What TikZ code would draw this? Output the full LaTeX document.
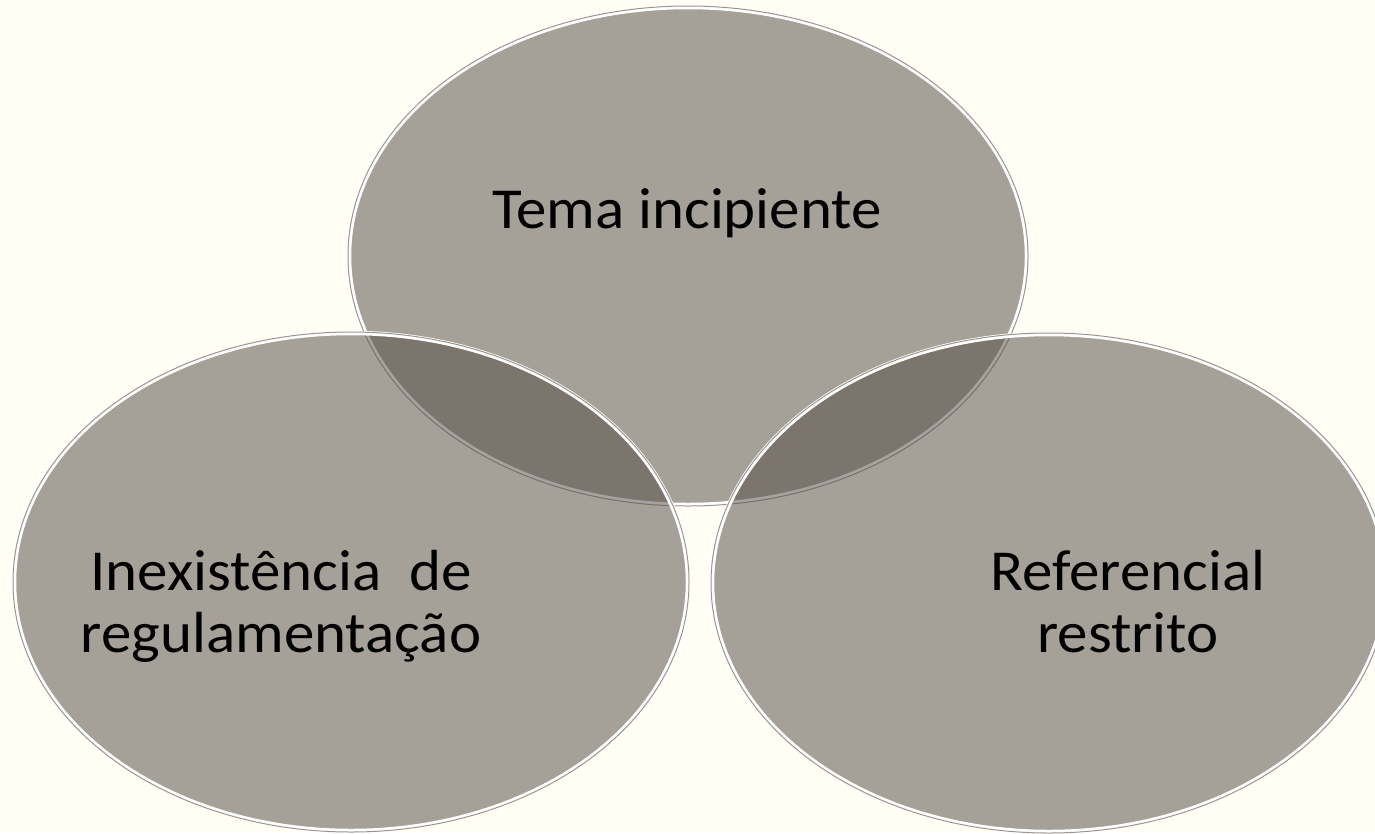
\documentclass[tikz,border=0pt]{standalone}
\usepackage{fontspec}
\setmainfont{Carlito}
\newfontfamily\lblfont[FakeStretch=1.05]{Carlito}
\definecolor{bgcol}{HTML}{FFFFF5}
\definecolor{vennfill}{HTML}{564F49}
\definecolor{rimgray}{HTML}{9A968F}
\tikzset{
  vennfill/.style={fill=vennfill, fill opacity=0.53},
  rimwhite/.style={draw=white, line width=4.5pt},
  rimgray/.style={draw=rimgray, line width=1pt},
  lbl/.style={font=\lblfont\fontsize{58}{62}\selectfont, text=black, inner sep=0pt, align=center}
}
\begin{document}
\begin{tikzpicture}[x=1pt,y=-1pt]
\fill[bgcol] (0,0) rectangle (1375,833);
\useasboundingbox (0,0) rectangle (1375,833);
% top
\fill[vennfill] (688,256) ellipse [x radius=339, y radius=249];
\draw[rimwhite] (688,256) ellipse [x radius=339, y radius=249];
\draw[rimgray] (688,256) ellipse [x radius=340, y radius=250];
% left
\fill[vennfill] (351,582) ellipse [x radius=337, y radius=249];
\draw[rimwhite] (351,582) ellipse [x radius=337, y radius=249];
\draw[rimgray] (351,582) ellipse [x radius=338, y radius=250];
% right
\fill[vennfill] (1049,583) ellipse [x radius=337, y radius=249];
\draw[rimwhite] (1049,583) ellipse [x radius=337, y radius=249];
\draw[rimgray] (1049,583) ellipse [x radius=338, y radius=250];
% labels
\node[lbl, anchor=base] (t1) at (687,228) {Tema incipiente};
\node[lbl, anchor=base] (t2) at (281,652) {Inexistência\ \ de\\regulamentação};
\node[lbl, anchor=base] (t3) at (1128,652) {Referencial\\restrito};
\end{tikzpicture}
\end{document}
